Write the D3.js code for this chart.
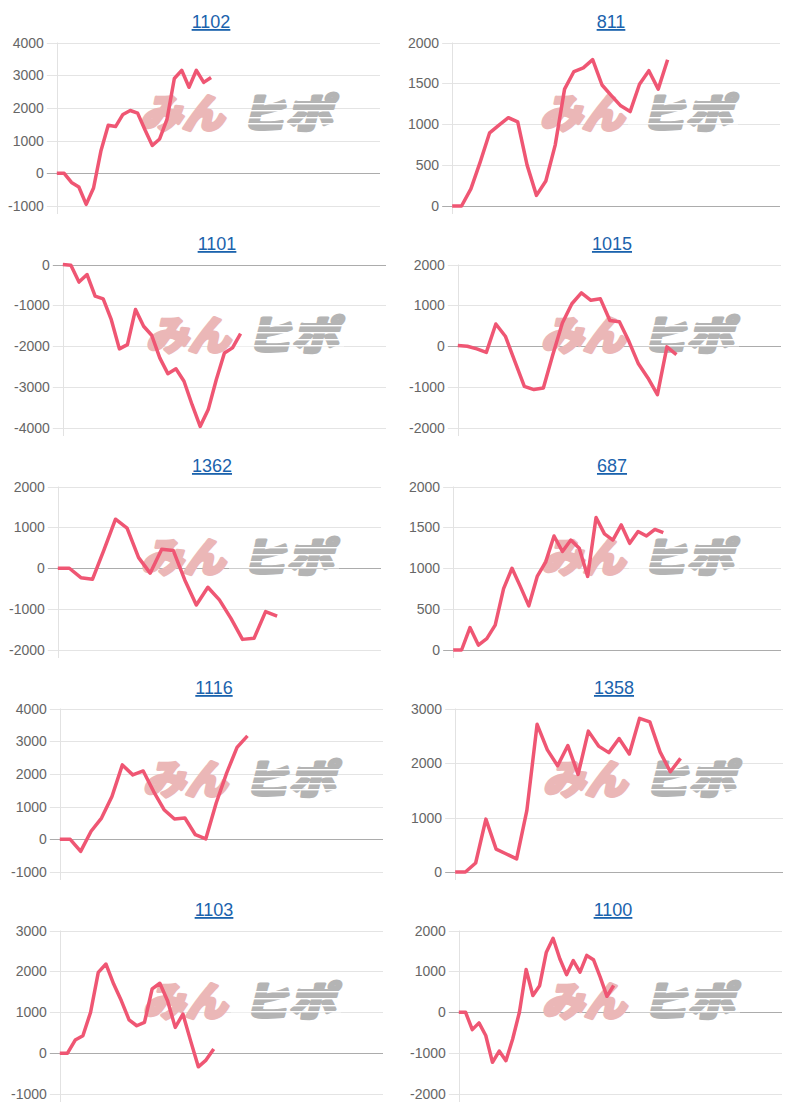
<!DOCTYPE html>
<html>
<head>
<meta charset="utf-8">
<script src="https://cdn.jsdelivr.net/npm/d3@7"></script>
<style>
  body { margin: 0; background: #fff; }
  svg { display: block; }
</style>
</head>
<body>
<svg id="chart" width="800" height="1110"></svg>
<script>
// machine numbers shown as chart titles
const titles = ['1102', '811', '1101', '1015', '1362', '687', '1116', '1358', '1103', '1100'];

// number of x categories on each chart (line only fills part of it)
const slots = [45, 36, 41, 35, 29, 40, 32, 33, 43, 49];

// y tick labels
const ticks1102 = [-1000, 0, 1000, 2000, 3000, 4000];
const ticks811 = [0, 500, 1000, 1500, 2000];
const ticks1101 = [-4000, -3000, -2000, -1000, 0];
const ticks1015 = [-2000, -1000, 0, 1000, 2000];
const ticks1362 = [-2000, -1000, 0, 1000, 2000];
const ticks687 = [0, 500, 1000, 1500, 2000];
const ticks1116 = [-1000, 0, 1000, 2000, 3000, 4000];
const ticks1358 = [0, 1000, 2000, 3000];
const ticks1103 = [-1000, 0, 1000, 2000, 3000];
const ticks1100 = [-2000, -1000, 0, 1000, 2000];

// 差枚 series
const s1102 = [0, 0, -280, -420, -950, -450, 680, 1470, 1430, 1800, 1920, 1840, 1330, 850, 1050, 1650, 2900, 3150, 2630, 3150, 2780, 2930];
const s811 = [0, 0, 210, 540, 895, 990, 1080, 1030, 500, 130, 305, 745, 1430, 1645, 1690, 1790, 1480, 1350, 1225, 1155, 1490, 1655, 1430, 1790];
const s1101 = [0, -20, -430, -245, -775, -840, -1350, -2065, -1960, -1100, -1510, -1730, -2285, -2670, -2550, -2855, -3430, -3960, -3550, -2815, -2165, -2040, -1690];
const s1015 = [20, 0, -65, -150, 545, 245, -370, -980, -1060, -1020, -200, 570, 1040, 1305, 1125, 1160, 630, 600, 120, -430, -775, -1185, -15, -205];
const s1362 = [0, 0, -230, -270, 450, 1200, 980, 260, -120, 465, 435, -285, -900, -465, -775, -1225, -1740, -1715, -1060, -1170];
const s687 = [0, 0, 275, 60, 140, 305, 750, 1000, 775, 540, 900, 1075, 1395, 1205, 1345, 1245, 900, 1620, 1420, 1345, 1530, 1305, 1450, 1395, 1475, 1435];
const s1116 = [0, 0, -370, 245, 650, 1310, 2275, 1970, 2090, 1460, 905, 620, 650, 140, 10, 1110, 2025, 2810, 3165];
const s1358 = [0, 0, 165, 970, 420, 330, 240, 1130, 2710, 2240, 1950, 2320, 1790, 2585, 2310, 2190, 2450, 2165, 2820, 2755, 2205, 1840, 2085];
const s1103 = [0, 0, 320, 425, 1000, 1975, 2180, 1690, 1280, 815, 670, 750, 1570, 1710, 1280, 630, 955, 300, -335, -170, 100];
const s1100 = [0, 0, -425, -260, -570, -1225, -950, -1185, -655, 0, 1045, 410, 650, 1470, 1810, 1310, 920, 1265, 980, 1390, 1285, 860, 390, 655];

const allTicks = [ticks1102, ticks811, ticks1101, ticks1015, ticks1362, ticks687, ticks1116, ticks1358, ticks1103, ticks1100];
const allSeries = [s1102, s811, s1101, s1015, s1362, s687, s1116, s1358, s1103, s1100];

// canvas left edge of every panel (they are not perfectly aligned in the page)
const panelX = [0, 400, 6, 401, 1, 401, 3, 403, 3, 402];
const rowH = 222;
const plotTop = 42.5, plotBottom = 206;

const svg = d3.select('#chart');
const font = '"Liberation Sans", Arial, sans-serif';
const jpFont = '"Noto Sans CJK JP", sans-serif';

// measure widest tick label so the plot starts where Chart.js would put it
const probe = svg.append('text').attr('font-family', font).attr('font-size', 14);
function labelWidth(arr) {
    return d3.max(arr, v => { probe.text(v); return probe.node().getComputedTextLength(); });
}

// heavy italic logo text, thickened with a stroke of the same colour
function logoText(sel, str, x0, w, col) {
    sel.append('text')
        .attr('x', x0).attr('y', 0)
        .attr('font-family', jpFont)
        .attr('font-size', 40).attr('font-weight', 900)
        .attr('fill', col)
        .attr('stroke', col).attr('stroke-width', 3.2).attr('stroke-linejoin', 'round')
        .attr('transform', 'skewX(-14)')
        .attr('textLength', w).attr('lengthAdjust', 'spacingAndGlyphs')
        .text(str);
}

titles.forEach((title, i) => {
    const L = panelX[i];
    const top = Math.floor(i / 2) * rowH;
    const tk = allTicks[i];
    const data = allSeries[i];

    const left = L + 8 + labelWidth(tk) + 13;
    const right = L + 380;

    const x = d3.scaleLinear().domain([0, slots[i] - 1]).range([left, right]);
    const y = d3.scaleLinear().domain(d3.extent(tk)).range([plotBottom, plotTop]);

    const g = svg.append('g').attr('transform', `translate(0,${top})`);

    // title (link style)
    g.append('text')
        .attr('x', L + 211).attr('y', 28)
        .attr('text-anchor', 'middle')
        .attr('font-family', font).attr('font-size', 18)
        .attr('fill', '#1b63ad')
        .style('text-decoration', 'underline')
        .text(title);

    // grid lines + tick marks
    g.selectAll('line.grid').data(tk).enter().append('line')
        .attr('x1', left - 10).attr('x2', right)
        .attr('y1', d => Math.round(y(d)) + 0.5).attr('y2', d => Math.round(y(d)) + 0.5)
        .attr('stroke', d => d === 0 ? '#acacac' : '#e4e4e4')
        .attr('stroke-width', 1);

    // y axis line
    g.append('line')
        .attr('x1', Math.round(left) + 0.5).attr('x2', Math.round(left) + 0.5)
        .attr('y1', plotTop).attr('y2', plotBottom + 8)
        .attr('stroke', '#e2e2e2');

    // tick labels
    g.selectAll('text.tick').data(tk).enter().append('text')
        .attr('x', left - 13).attr('y', d => y(d) + 5)
        .attr('text-anchor', 'end')
        .attr('font-family', font).attr('font-size', 14)
        .attr('fill', '#666')
        .text(d => d);

    // watermark
    const wm = g.append('g').attr('transform', `translate(${L + 132},128)`);
    logoText(wm, 'みん', 8, 84, '#ebb7b7');
    logoText(wm, 'ヒポ', 108, 92, '#b4b4b4');
    // speed-line cuts through the grey part
    [-25, -18, -11, -5].forEach(dy => {
        wm.append('rect')
            .attr('x', 96).attr('y', dy).attr('width', 110).attr('height', 1.4)
            .attr('fill', '#fff');
    });

    // the line itself
    const line = d3.line()
        .x((d, j) => x(j))
        .y(d => y(d));

    g.append('path')
        .datum(data)
        .attr('d', line)
        .attr('fill', 'none')
        .attr('stroke', '#ef5673')
        .attr('stroke-width', 3.5)
        .attr('stroke-linejoin', 'round');
});

probe.remove();
</script>
</body>
</html>
